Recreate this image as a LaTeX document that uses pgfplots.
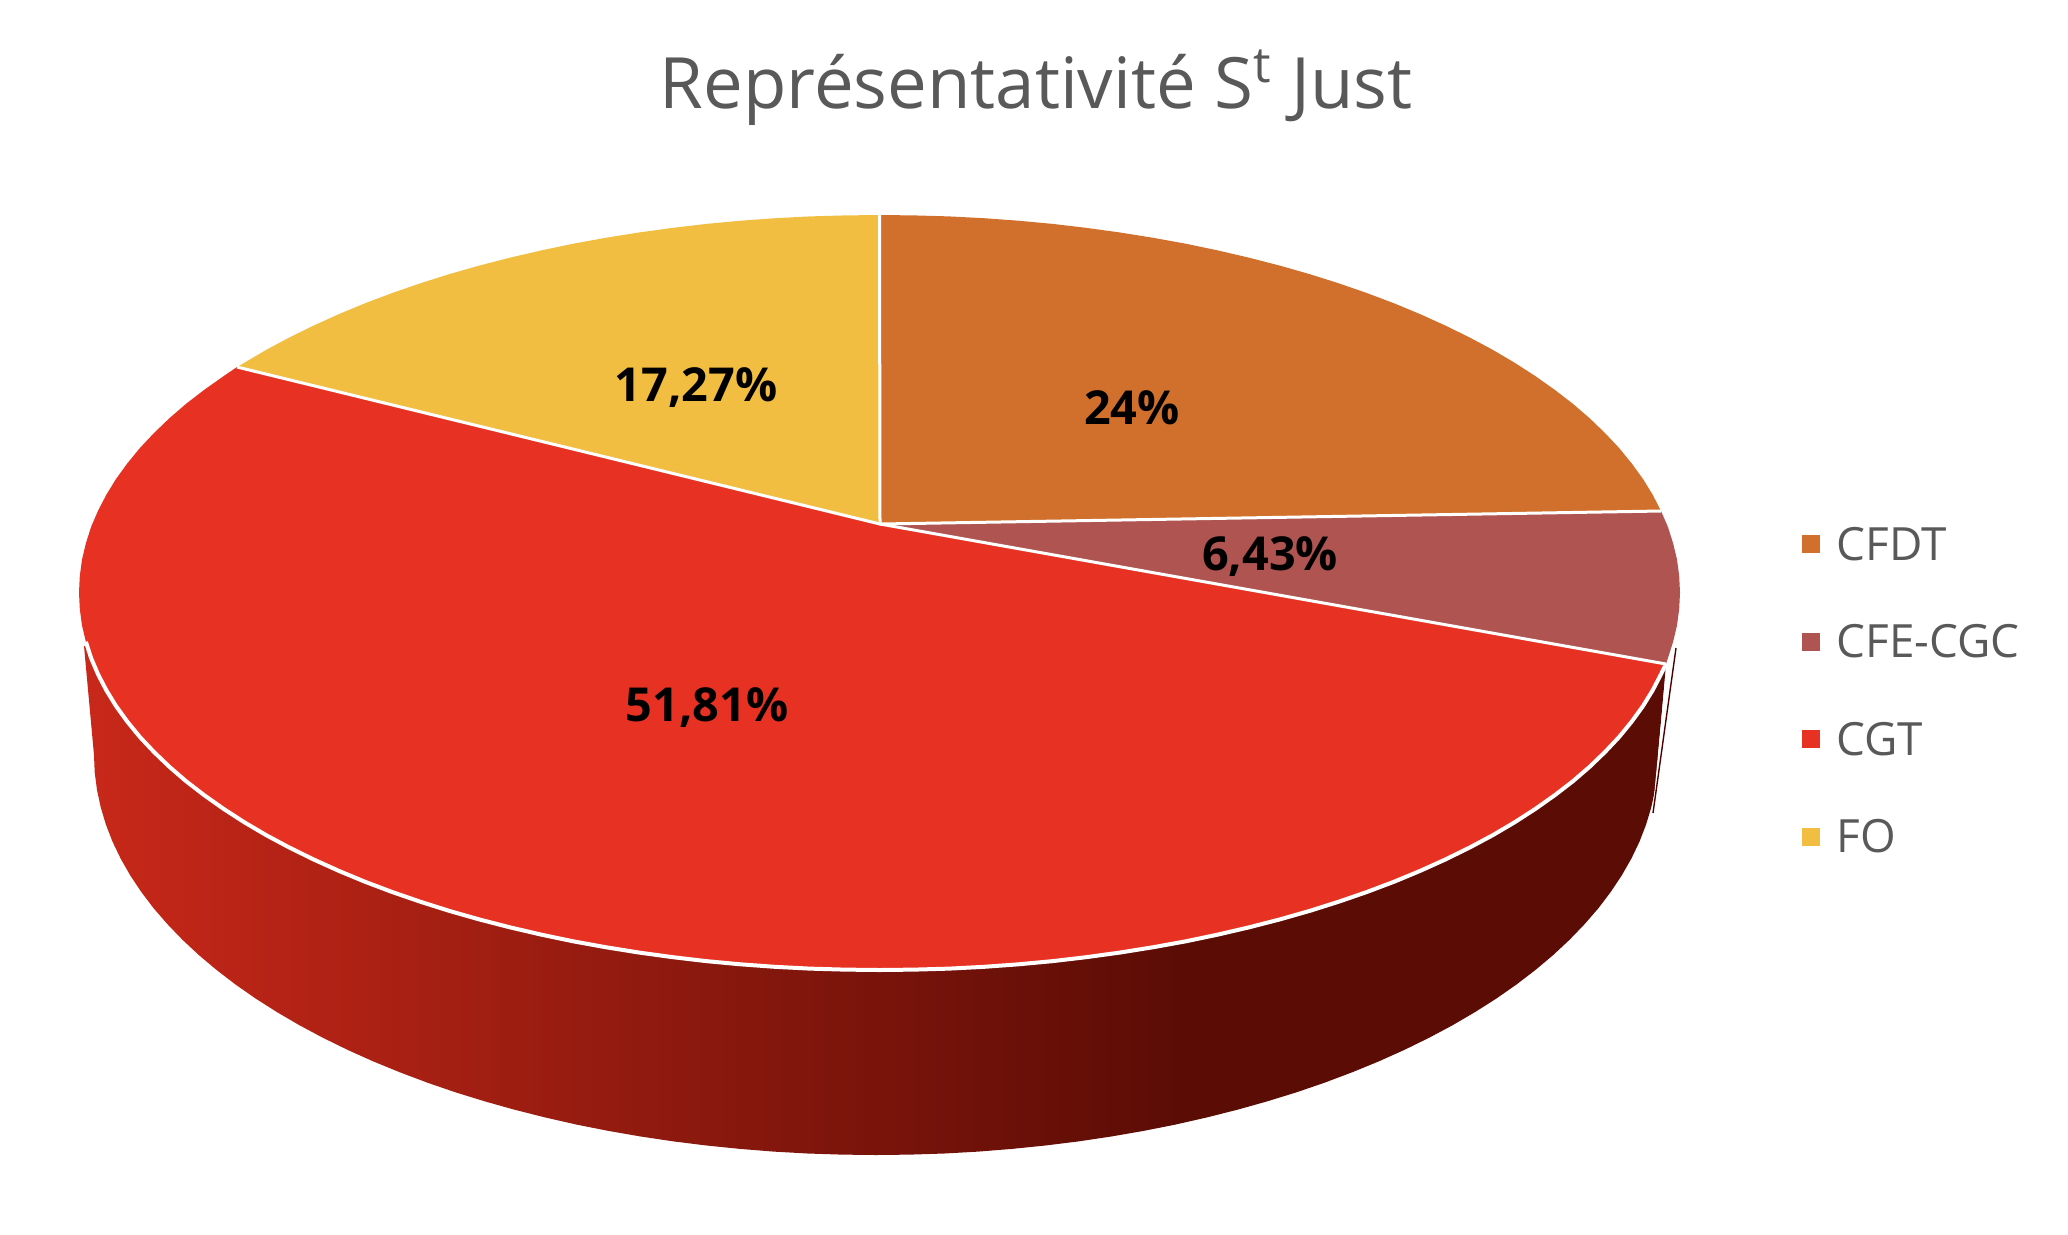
\documentclass[border=0pt]{standalone}
\usepackage{fontspec}
\setmainfont{Open Sans}
\usepackage{pgfplots}
\pgfplotsset{compat=1.18}
\definecolor{cfdt}{RGB}{209,112,44}
\definecolor{cfe}{RGB}{175,84,80}
\definecolor{cgt}{RGB}{231,50,35}
\definecolor{fo}{RGB}{241,190,66}
\definecolor{greytxt}{RGB}{89,89,89}
% 25bp..75bp of the shading cover the width of the side face
\pgfdeclarehorizontalshading{sidegrad}{100bp}{
  rgb(0bp)=(0.784,0.157,0.098);
  rgb(25bp)=(0.784,0.157,0.098);
  rgb(60bp)=(0.353,0.047,0.020);
  rgb(100bp)=(0.353,0.047,0.020)}
\begin{document}
\begin{tikzpicture}
\useasboundingbox (0,0) rectangle (517pt,308.5pt);
\begin{axis}[
  at={(0,0)}, anchor=south west,
  scale only axis, width=517pt, height=308.5pt,
  xmin=0, xmax=2068, ymin=0, ymax=1234, y dir=reverse,
  hide axis, clip=false,
  legend style={at={(axis cs:1802,519)}, anchor=north west, draw=none, fill=none,
    inner sep=0pt, outer sep=0pt, row sep=10.6pt, column sep=2.15pt,
    font=\fontsize{11.45pt}{11.45pt}\selectfont, text=greytxt},
  legend cell align=left,
  legend image code/.code={\fill[#1,draw=none] (0pt,-1.65pt) rectangle (4.5pt,2.85pt);},
]
% side of the disc
\addplot[shading=sidegrad, draw=none, forget plot] coordinates {
  (84,646) (94,755) (94.7,772.4) (97,789.9) (100.7,807.2) (105.9,824.5) (112.5,841.6)
  (120.6,858.5) (130.2,875.3) (141.2,891.8) (153.5,908.1) (167.3,924) (182.4,939.7)
  (198.8,955) (216.5,969.9) (235.4,984.4) (255.6,998.5) (277,1012.1) (299.4,1025.2)
  (323,1037.8) (347.7,1049.9) (373.3,1061.4) (399.9,1072.3) (427.5,1082.7) (455.8,1092.4)
  (485,1101.4) (514.9,1109.8) (545.5,1117.5) (576.7,1124.6) (608.5,1130.9) (640.8,1136.5)
  (673.6,1141.4) (706.7,1145.5) (740.2,1148.9) (773.9,1151.6) (807.8,1153.5) (841.9,1154.6)
  (876,1155) (910.1,1154.6) (944.2,1153.5) (978.1,1151.6) (1011.8,1148.9) (1045.3,1145.5)
  (1078.4,1141.4) (1111.2,1136.5) (1143.5,1130.9) (1175.3,1124.6) (1206.5,1117.5)
  (1237.1,1109.8) (1267,1101.4) (1296.2,1092.4) (1324.5,1082.7) (1352.1,1072.3)
  (1378.7,1061.4) (1404.3,1049.9) (1429,1037.8) (1452.6,1025.2) (1475,1012.1)
  (1496.4,998.5) (1516.6,984.4) (1535.5,969.9) (1553.2,955) (1569.6,939.7) (1584.7,924)
  (1598.5,908.1) (1610.8,891.8) (1621.8,875.3) (1631.4,858.5) (1639.5,841.6)
  (1646.1,824.5) (1651.3,807.2) (1655,789.9) (1657.3,772.4) (1658,755) (1666,664) (880,600)
} -- cycle;
% thin side of the CFE-CGC slice
\addplot[fill=white, draw=white, line width=0.3pt, forget plot] coordinates {
  (1676,648) (1653,813) (1666,677)
} -- cycle;
\addplot[draw=black!70!red, line width=0.35pt, forget plot] coordinates {
  (1676,648) (1653,813)
};
% top face
\addplot[fill=cfdt, draw=none] coordinates {
  (880,524) (879.5,215) (914.4,215.4) (949.3,216.4) (984,218.2) (1018.5,220.7)
  (1052.8,223.9) (1086.7,227.9) (1120.2,232.5) (1153.3,237.8) (1185.8,243.7)
  (1217.8,250.4) (1249.1,257.7) (1279.8,265.6) (1309.6,274.1) (1338.7,283.3)
  (1366.8,293) (1394.1,303.3) (1420.3,314.2) (1445.5,325.6) (1469.7,337.5)
  (1492.7,349.8) (1514.6,362.7) (1535.2,376) (1554.6,389.7) (1572.8,403.7)
  (1589.6,418.2) (1605,433) (1619.1,448) (1631.7,463.4) (1643,479) (1652.7,494.8)
  (1661,511)
} -- cycle;
\addlegendentry{CFDT}
\addplot[fill=cfe, draw=none] coordinates {
  (880,524) (1661,511) (1667.9,526.9) (1673.1,543.2) (1677,559.6) (1679.2,576)
  (1680,592.5) (1679.2,609) (1677,625.4) (1673.1,641.8) (1667.9,658.1) (1666,664)
} -- cycle;
\addlegendentry{CFE-CGC}
\addplot[fill=cgt, draw=none] coordinates {
  (880,524) (1666,664) (1661,674.2) (1652.7,690.2) (1643,706) (1631.7,721.6) (1619.1,737)
  (1605,752) (1589.6,766.8) (1572.8,781.3) (1554.6,795.3) (1535.2,809) (1514.6,822.3)
  (1492.7,835.2) (1469.7,847.5) (1445.5,859.4) (1420.3,870.8) (1394.1,881.7) (1366.8,892)
  (1338.7,901.7) (1309.6,910.9) (1279.8,919.4) (1249.1,927.3) (1217.8,934.6) (1185.8,941.3)
  (1153.3,947.2) (1120.2,952.5) (1086.7,957.1) (1052.8,961.1) (1018.5,964.3) (984,966.8)
  (949.3,968.6) (914.4,969.6) (879.5,970) (844.6,969.6) (809.7,968.6) (775,966.8)
  (740.5,964.3) (706.2,961.1) (672.3,957.1) (638.8,952.5) (605.7,947.2) (573.2,941.3)
  (541.2,934.6) (509.9,927.3) (479.2,919.4) (449.4,910.9) (420.3,901.7) (392.2,892)
  (364.9,881.7) (338.7,870.8) (313.5,859.4) (289.3,847.5) (266.3,835.2) (244.4,822.3)
  (223.8,809) (204.4,795.3) (186.2,781.3) (169.4,766.8) (154,752) (139.9,737) (127.3,721.6)
  (116,706) (106.3,690.2) (98,674.2) (91.1,658.1) (85.9,641.8) (82,625.4) (79.8,609)
  (79,592.5) (79.8,576) (82,559.6) (85.9,543.2) (91.1,526.9) (98,510.8) (106.3,494.8)
  (116,479) (127.3,463.4) (139.9,448) (154,433) (169.4,418.2) (186.2,403.7) (204.4,389.7)
  (223.8,376) (237,367)
} -- cycle;
\addlegendentry{CGT}
\addplot[fill=fo, draw=none] coordinates {
  (880,524) (237,367) (244.4,362.7) (266.3,349.8) (289.3,337.5) (313.5,325.6) (338.7,314.2)
  (364.9,303.3) (392.2,293) (420.3,283.3) (449.4,274.1) (479.2,265.6) (509.9,257.7)
  (541.2,250.4) (573.2,243.7) (605.7,237.8) (638.8,232.5) (672.3,227.9) (706.2,223.9)
  (740.5,220.7) (775,218.2) (809.7,216.4) (844.6,215.4) (879.5,215)
} -- cycle;
\addlegendentry{FO}
% white separators, and the white rim above the side
\addplot[draw=white, line width=0.75pt, line join=round, forget plot] coordinates {
  (879.5,215) (880,524) (1661,511)
};
\addplot[draw=white, line width=0.75pt, line join=round, forget plot] coordinates {
  (237,367) (880,524) (1666,664)
};
\addplot[draw=white, line width=1pt, line join=round, forget plot] coordinates {
  (1666,664) (1661,674.2) (1652.7,690.2) (1643,706) (1631.7,721.6) (1619.1,737)
  (1605,752) (1589.6,766.8) (1572.8,781.3) (1554.6,795.3) (1535.2,809) (1514.6,822.3)
  (1492.7,835.2) (1469.7,847.5) (1445.5,859.4) (1420.3,870.8) (1394.1,881.7) (1366.8,892)
  (1338.7,901.7) (1309.6,910.9) (1279.8,919.4) (1249.1,927.3) (1217.8,934.6) (1185.8,941.3)
  (1153.3,947.2) (1120.2,952.5) (1086.7,957.1) (1052.8,961.1) (1018.5,964.3) (984,966.8)
  (949.3,968.6) (914.4,969.6) (879.5,970) (844.6,969.6) (809.7,968.6) (775,966.8)
  (740.5,964.3) (706.2,961.1) (672.3,957.1) (638.8,952.5) (605.7,947.2) (573.2,941.3)
  (541.2,934.6) (509.9,927.3) (479.2,919.4) (449.4,910.9) (420.3,901.7) (392.2,892)
  (364.9,881.7) (338.7,870.8) (313.5,859.4) (289.3,847.5) (266.3,835.2) (244.4,822.3)
  (223.8,809) (204.4,795.3) (186.2,781.3) (169.4,766.8) (154,752) (139.9,737) (127.3,721.6)
  (116,706) (106.3,690.2) (98,674.2) (91.1,658.1) (85.9,641.8)
};
\node[anchor=base, text=greytxt, font=\fontsize{17.7pt}{17.7pt}\selectfont, inner sep=0pt]
  at (axis cs:1036,108) {Représentativité S\textsuperscript{t} Just};
\node[font=\fontsize{11.7pt}{11.7pt}\bfseries, inner sep=0pt] at (axis cs:1132,408) {24\%};
\node[font=\fontsize{11.7pt}{11.7pt}\bfseries, inner sep=0pt] at (axis cs:1270,557) {6,43\%};
\node[font=\fontsize{11.7pt}{11.7pt}\bfseries, inner sep=0pt] at (axis cs:707,708) {51,81\%};
\node[font=\fontsize{11.7pt}{11.7pt}\bfseries, inner sep=0pt] at (axis cs:696,388) {17,27\%};
\end{axis}
\end{tikzpicture}
\end{document}
